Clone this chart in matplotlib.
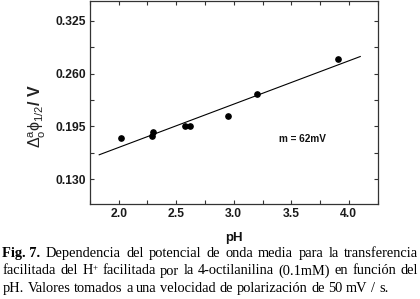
import matplotlib
matplotlib.use('Agg')
import matplotlib.pyplot as plt
from matplotlib.ticker import MultipleLocator

# ---- data ----
ph = [2.02, 2.29, 2.30, 2.58, 2.62, 2.95, 3.20, 3.91]
e_half = [0.181, 0.183, 0.188, 0.195, 0.196, 0.208, 0.235, 0.278]
fit_ph = [1.83, 4.10]
fit_e = [0.160, 0.281]
x_ticks = [2.0, 2.5, 3.0, 3.5, 4.0]
y_ticks = [0.130, 0.195, 0.260, 0.325]
y_tick_labels = ['0.130', '0.195', '0.260', '0.325']
slope_text = 'm = 62mV'
x_label = 'pH'
caption_lines = [
    [[('Fig. 7.', 'bold')], [('Dependencia', 'normal')], [('del', 'normal')], [('potencial', 'normal')],
     [('de', 'normal')], [('onda', 'normal')], [('media', 'normal')], [('para', 'normal')],
     [('la', 'normal')], [('transferencia', 'normal')]],
    [[('facilitada', 'normal')], [('del', 'normal')], [('H', 'normal'), ('+', 'sup')],
     [('facilitada', 'normal')], [('por', 'normal')], [('la', 'normal')], [('4-octilanilina', 'normal')],
     [('(0.1mM)', 'normal')], [('en', 'normal')], [('función', 'normal')], [('del', 'normal')]],
    [[('pH.', 'normal')], [('Valores', 'normal')], [('tomados', 'normal')], [('a', 'normal')],
     [('una', 'normal')], [('velocidad', 'normal')], [('de', 'normal')], [('polarización', 'normal')],
     [('de', 'normal')], [('50', 'normal')], [('mV', 'normal')], [('/', 'normal')], [('s.', 'normal')]],
]

W, H = 420, 299
SANS = ['Liberation Sans', 'DejaVu Sans']
SERIF = ['Liberation Serif', 'DejaVu Serif']
plt.rcParams['mathtext.fontset'] = 'custom'
plt.rcParams['mathtext.rm'] = 'Liberation Sans'
plt.rcParams['mathtext.it'] = 'Liberation Sans:italic'
plt.rcParams['mathtext.bf'] = 'Liberation Sans:bold'

fig = plt.figure(figsize=(W / 100, H / 100), dpi=100)
fig.patch.set_facecolor('white')
ax = fig.add_axes([90 / W, 1 - 203.5 / H, 287.5 / W, 203 / H])

ax.plot(fit_ph, fit_e, color='black', lw=0.8)
ax.plot(ph, e_half, 'o', color='black', ms=3.8, mec='black')

ax.set_xlim(1.75, 4.25)
ax.set_ylim(0.10, 0.35)
ax.set_xticks(x_ticks)
ax.set_xticklabels([f'{v:.1f}' for v in x_ticks])
ax.set_yticks(y_ticks)
ax.set_yticklabels(y_tick_labels)
ax.xaxis.set_minor_locator(MultipleLocator(0.25))
ax.yaxis.set_minor_locator(MultipleLocator(0.0325))
ax.tick_params(which='both', direction='in', top=True, right=True, length=3.2,
               width=0.8, color='#333333')
ax.tick_params(which='major', labelsize=8.7, pad=3)
for lab in ax.get_xticklabels() + ax.get_yticklabels():
    lab.set_family(SANS)
    lab.set_fontweight('bold')
    lab.set_color('#1a1a1a')
for s in ax.spines.values():
    s.set_linewidth(0.9)
    s.set_color('#333333')

ax.text(3.60, 0.1795, slope_text, ha='center', va='center', fontsize=7.2,
        fontweight='bold', family=SANS, color='#111111')

fig.text(234 / W, 1 - 237.5 / H, x_label, ha='center', va='center', fontsize=9.5,
         fontweight='bold', family=SANS, color='#111111')
fig.text(37 / W, 1 - 116 / H, r'$\mathrm{\Delta}^{\mathrm{a}}_{\mathrm{o}}\mathrm{\phi}_{\mathrm{1/2}}$/ V',
         rotation=90, ha='center', va='center', fontsize=11.5, fontweight='bold',
         family=SANS, color='#222222')

# ---- caption, justified ----
fig.canvas.draw()
r = fig.canvas.get_renderer()
CAP = 10.4

def make(txt, kind):
    if kind == 'sup':
        return fig.text(0, 0, txt, fontsize=CAP * 0.62, family=SERIF, va='baseline')
    return fig.text(0, 0, txt, fontsize=CAP, family=SERIF, fontweight=kind, va='baseline')

probe = make('a a', 'normal')
w_aa = make('aa', 'normal')
space_w = probe.get_window_extent(r).width - w_aa.get_window_extent(r).width
probe.remove(); w_aa.remove()

baselines = [257, 274.5, 292]
x0, x1 = 2.5, 418.0
for li, words in enumerate(caption_lines):
    built = []
    for word in words:
        pieces = []
        for txt, kind in word:
            t = make(txt, kind)
            pieces.append((t, t.get_window_extent(r).width, kind))
        built.append(pieces)
    widths = [sum(p[1] for p in w) for w in built]
    if li < len(caption_lines) - 1:
        gap = (x1 - x0 - sum(widths)) / (len(built) - 1)
    else:
        gap = space_w
    x = x0
    yb = baselines[li]
    for pieces, wd in zip(built, widths):
        px = x
        for t, w, kind in pieces:
            yy = yb - 4.5 if kind == 'sup' else yb
            t.set_position((px / W, 1 - yy / H))
            px += w
        x += wd + gap

fig.savefig('out.png', dpi=100, facecolor='white')
